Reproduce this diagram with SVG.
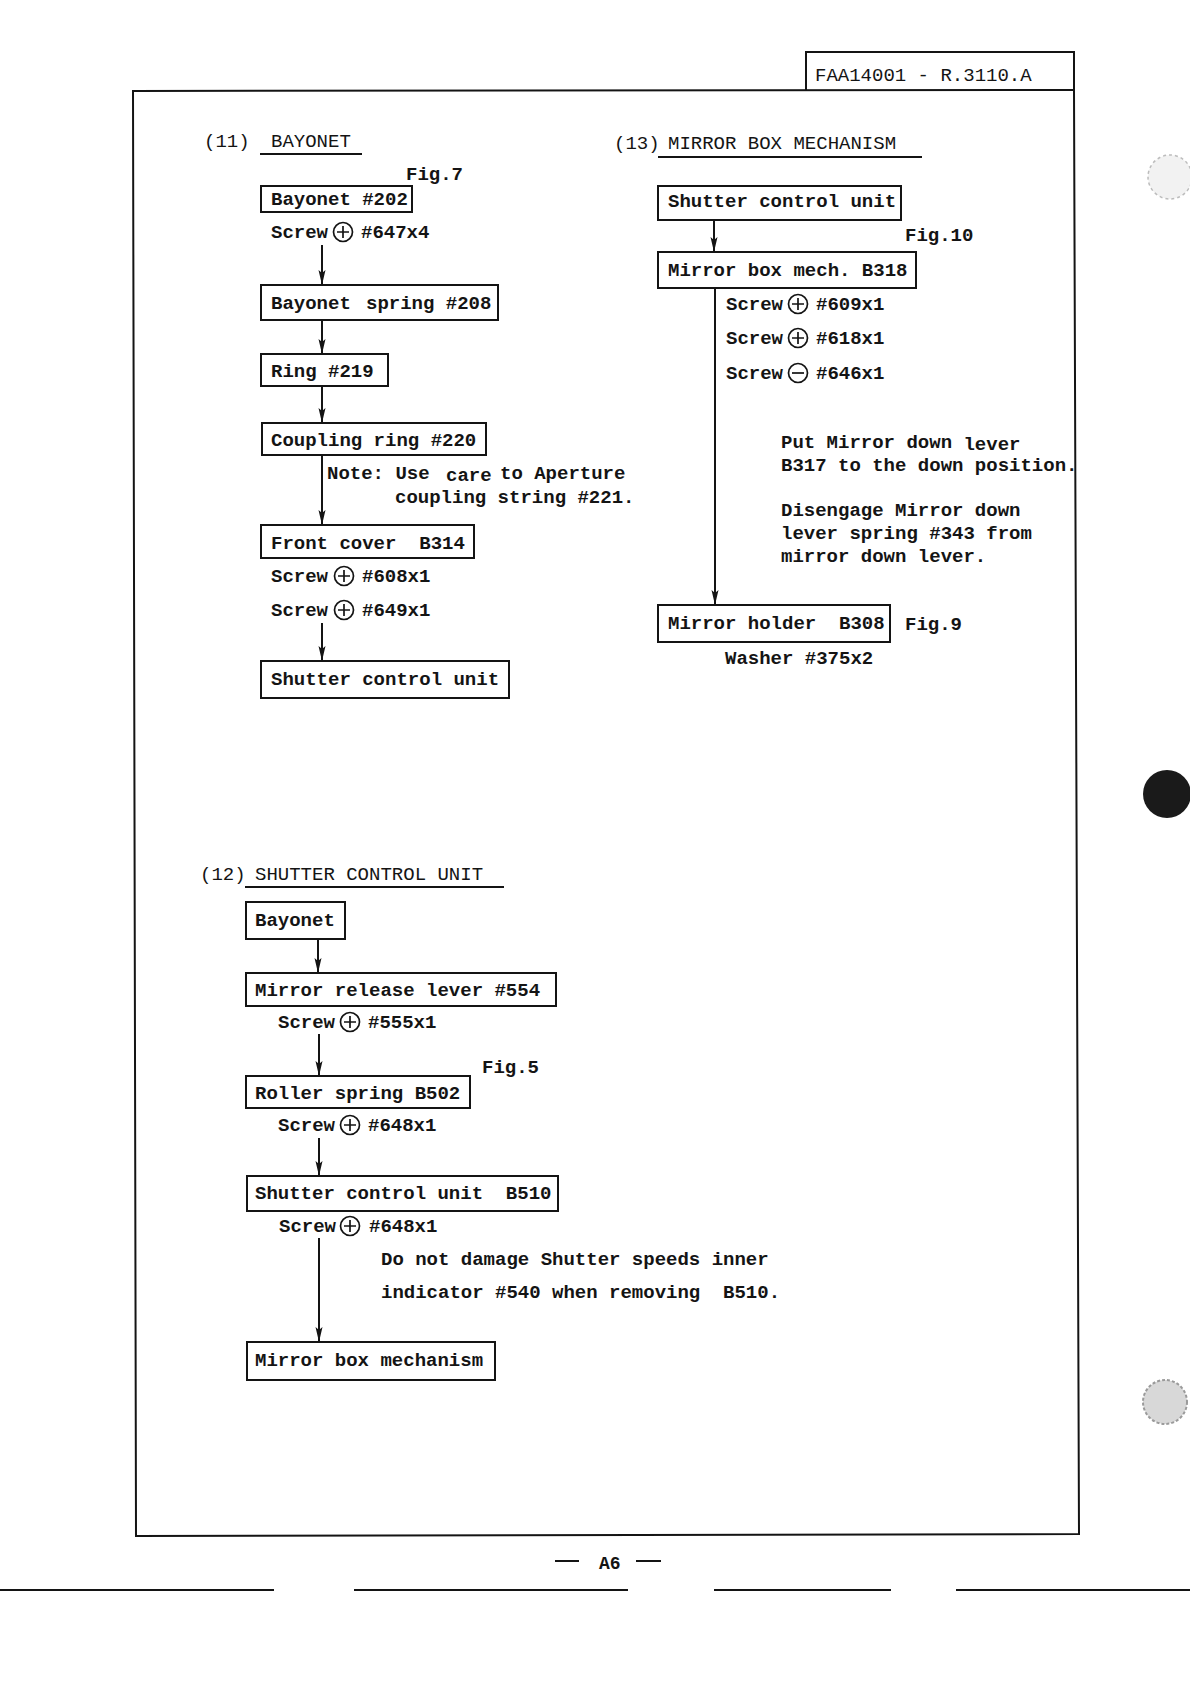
<svg xmlns="http://www.w3.org/2000/svg" width="1190" height="1684" viewBox="0 0 1190 1684">
<defs>
<style>
text{font-family:"Liberation Mono","DejaVu Sans Mono",monospace;font-size:19px;fill:#141414;font-weight:bold;white-space:pre}
.box{fill:none;stroke:#141414;stroke-width:2}
.ln{fill:none;stroke:#141414;stroke-width:2}
.con{fill:none;stroke:#141414;stroke-width:2}
.sym{fill:none;stroke:#141414;stroke-width:1.7}
.ttl{font-weight:normal;font-family:"Liberation Mono","DejaVu Sans Mono",monospace}
</style>
<marker id="ah" viewBox="0 0 15 8" refX="15" refY="4" markerWidth="15" markerHeight="8" markerUnits="userSpaceOnUse" orient="auto">
<path d="M0,0.5 L15,4 L0,7.5 L3,4 Z" fill="#141414"/>
</marker>
<g id="plus"><circle cx="0" cy="0" r="9.5" class="sym"/><path d="M-6,0 H6 M0,-6 V6" class="sym"/></g>
<g id="minus"><circle cx="0" cy="0" r="9.5" class="sym"/><path d="M-6,0 H6" class="sym"/></g>
</defs>
<rect x="0" y="0" width="1190" height="1684" fill="#ffffff"/>

<g id="frame">
<path d="M133,91 L1074,90 L1079,1534 L136,1536 Z" class="ln" stroke-width="2.5"/>
<path d="M806,90 L806,52 L1074,52 L1074,90" class="ln"/>
<text x="815" y="81" class="ttl">FAA14001 - R.3110.A</text>
</g>

<g id="footer">
<line x1="555" y1="1561" x2="579" y2="1561" class="ln"/>
<text x="599" y="1569" style="font-size:18px">A6</text>
<line x1="636" y1="1561" x2="661" y2="1561" class="ln"/>
<path d="M0,1590 H274 M354,1590 H628 M714,1590 H891 M956,1590 H1190" class="ln" stroke-width="2.5"/>
</g>

<g id="holes">
<circle cx="1167" cy="794" r="24" fill="#1a1a1a"/>
<circle cx="1165" cy="1402" r="22" fill="#d8d8d8" stroke="#9a9a9a" stroke-width="2" stroke-dasharray="3 2"/>
<circle cx="1170" cy="177" r="22" fill="#f2f2f2" stroke="#bcbcbc" stroke-width="1.5" stroke-dasharray="3 3"/>
</g>

<!-- Section 11 -->
<g id="title11">
<text x="204" y="147" class="ttl">(11)</text>
<text x="271" y="147" class="ttl">BAYONET</text>
<line x1="260" y1="154" x2="362" y2="154" class="ln"/>
<text x="406" y="180">Fig.7</text>
</g>
<g id="n11_bayonet202">
<rect x="261" y="186" width="151" height="26" class="box"/>
<text x="271" y="205">Bayonet #202</text>
</g>
<g id="n11_screw647">
<text x="271" y="238">Screw</text>
<use href="#plus" x="343" y="232"/>
<text x="361" y="238">#647x4</text>
</g>
<g id="n11_spring208">
<rect x="261" y="285" width="237" height="35" class="box"/>
<text x="271" y="309">Bayonet <tspan x="366">spring #208</tspan></text>
</g>
<g id="n11_ring219">
<rect x="261" y="354" width="127" height="32" class="box"/>
<text x="271" y="377">Ring #219</text>
</g>
<g id="n11_coupling220">
<rect x="262" y="423" width="224" height="32" class="box"/>
<text x="271" y="446">Coupling ring #220</text>
</g>
<g id="n11_note">
<text x="327" y="479">Note: Use <tspan x="446" dy="2">care</tspan><tspan x="500" dy="-2">to Aperture</tspan></text>
<text x="395" y="503">coupling string #221.</text>
</g>
<g id="n11_front314">
<rect x="261" y="525" width="213" height="33" class="box"/>
<text x="271" y="549" xml:space="preserve">Front cover  B314</text>
</g>
<g id="n11_screws">
<text x="271" y="582">Screw</text>
<use href="#plus" x="344" y="576"/>
<text x="362" y="582">#608x1</text>
<text x="271" y="616">Screw</text>
<use href="#plus" x="344" y="610"/>
<text x="362" y="616">#649x1</text>
</g>
<g id="n11_shutter">
<rect x="261" y="661" width="248" height="37" class="box"/>
<text x="271" y="685">Shutter control unit</text>
</g>

<!-- Section 13 -->
<g id="title13">
<text x="614" y="149" class="ttl">(13)</text>
<text x="668" y="149" class="ttl">MIRROR BOX MECHANISM</text>
<line x1="658" y1="157" x2="922" y2="157" class="ln"/>
<text x="905" y="241">Fig.10</text>
</g>
<g id="n13_shutter">
<rect x="658" y="186" width="243" height="34" class="box"/>
<text x="668" y="207">Shutter control unit</text>
</g>
<g id="n13_mirrorbox318">
<rect x="658" y="252" width="258" height="36" class="box"/>
<text x="668" y="276">Mirror box mech. B318</text>
</g>
<g id="n13_screws">
<text x="726" y="310">Screw</text>
<use href="#plus" x="798" y="304"/>
<text x="816" y="310">#609x1</text>
<text x="726" y="344">Screw</text>
<use href="#plus" x="798" y="338"/>
<text x="816" y="344">#618x1</text>
<text x="726" y="379">Screw</text>
<use href="#minus" x="798" y="373"/>
<text x="816" y="379">#646x1</text>
</g>
<g id="n13_notes">
<text x="781" y="448">Put Mirror down <tspan dy="2">lever</tspan></text>
<text x="781" y="471">B317 to the down position.</text>
<text x="781" y="516">Disengage Mirror down</text>
<text x="781" y="539">lever spring #343 from</text>
<text x="781" y="562">mirror down lever.</text>
</g>
<g id="n13_holder308">
<rect x="658" y="605" width="232" height="37" class="box"/>
<text x="668" y="629" xml:space="preserve">Mirror holder  B308</text>
<text x="905" y="630">Fig.9</text>
<text x="725" y="664">Washer #375x2</text>
</g>

<!-- Section 12 -->
<g id="title12">
<text x="200" y="880" class="ttl">(12)</text>
<text x="255" y="880" class="ttl">SHUTTER CONTROL UNIT</text>
<line x1="245" y1="887" x2="504" y2="887" class="ln"/>
<text x="482" y="1073">Fig.5</text>
</g>
<g id="n12_bayonet">
<rect x="246" y="902" width="99" height="37" class="box"/>
<text x="255" y="926">Bayonet</text>
</g>
<g id="n12_release554">
<rect x="246" y="973" width="310" height="33" class="box"/>
<text x="255" y="996">Mirror release lever #554</text>
</g>
<g id="n12_screw555">
<text x="278" y="1028">Screw</text>
<use href="#plus" x="350" y="1022"/>
<text x="368" y="1028">#555x1</text>
</g>
<g id="n12_roller502">
<rect x="246" y="1076" width="224" height="32" class="box"/>
<text x="255" y="1099">Roller spring B502</text>
</g>
<g id="n12_screw648a">
<text x="278" y="1131">Screw</text>
<use href="#plus" x="350" y="1125"/>
<text x="368" y="1131">#648x1</text>
</g>
<g id="n12_shutter510">
<rect x="247" y="1176" width="311" height="35" class="box"/>
<text x="255" y="1199" xml:space="preserve">Shutter control unit  B510</text>
</g>
<g id="n12_screw648b">
<text x="279" y="1232">Screw</text>
<use href="#plus" x="350" y="1226"/>
<text x="369" y="1232">#648x1</text>
</g>
<g id="n12_note">
<text x="381" y="1265">Do not damage Shutter speeds inner</text>
<text x="381" y="1298" xml:space="preserve">indicator #540 when removing  B510.</text>
</g>
<g id="n12_mirrorbox">
<rect x="247" y="1342" width="248" height="38" class="box"/>
<text x="255" y="1366">Mirror box mechanism</text>
</g>

<g id="connectors">
<line x1="322" y1="245" x2="322" y2="285" class="con" marker-end="url(#ah)"/>
<line x1="322" y1="320" x2="322" y2="354" class="con" marker-end="url(#ah)"/>
<line x1="322" y1="386" x2="322" y2="423" class="con" marker-end="url(#ah)"/>
<line x1="322" y1="455" x2="322" y2="525" class="con" marker-end="url(#ah)"/>
<line x1="322" y1="623" x2="322" y2="661" class="con" marker-end="url(#ah)"/>
<line x1="714" y1="220" x2="714" y2="252" class="con" marker-end="url(#ah)"/>
<line x1="715" y1="288" x2="715" y2="605" class="con" marker-end="url(#ah)"/>
<line x1="318" y1="939" x2="318" y2="973" class="con" marker-end="url(#ah)"/>
<line x1="319" y1="1034" x2="319" y2="1076" class="con" marker-end="url(#ah)"/>
<line x1="319" y1="1138" x2="319" y2="1176" class="con" marker-end="url(#ah)"/>
<line x1="319" y1="1238" x2="319" y2="1342" class="con" marker-end="url(#ah)"/>
</g>
</svg>
